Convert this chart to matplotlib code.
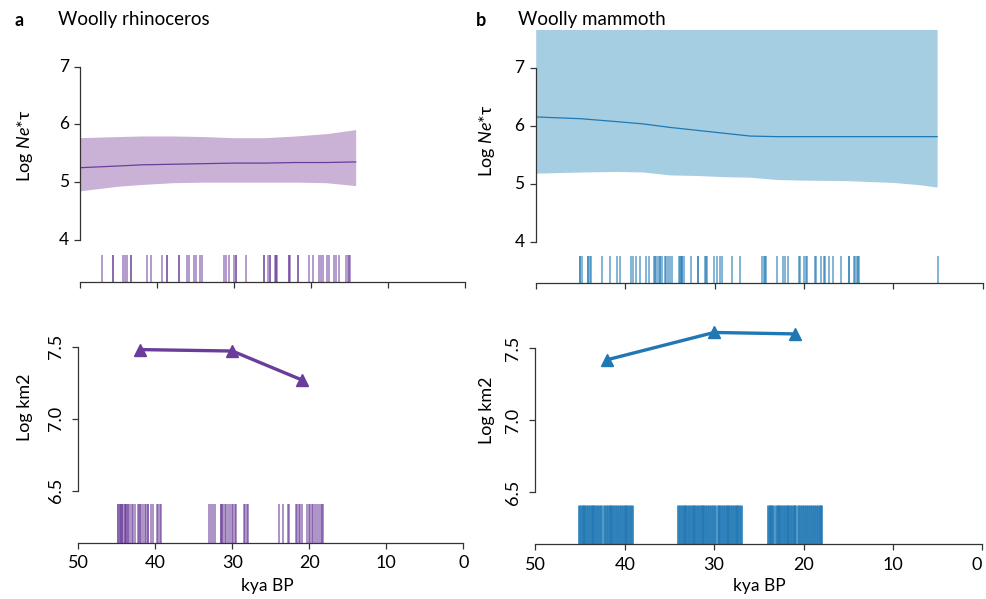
import matplotlib.pyplot as plt

# colores (ColorBrewer Paired)
rhino_dark, rhino_light = "#6a3d9a", "#cab2d6"
mam_dark, mam_light = "#1f78b4", "#a6cee3"

# Ne*tau - rinoceronte lanudo
rhino_kya = [50, 45, 42, 38, 34, 30, 26, 22, 18, 14.2]
rhino_med = [5.25, 5.28, 5.30, 5.31, 5.32, 5.33, 5.33, 5.34, 5.34, 5.35]
rhino_lo = [4.85, 4.93, 4.96, 4.99, 5.00, 5.00, 5.00, 5.00, 4.99, 4.94]
rhino_up = [5.77, 5.79, 5.80, 5.80, 5.79, 5.77, 5.77, 5.80, 5.84, 5.91]

# Ne*tau - mamut lanudo
mam_kya = [50, 45, 41, 38, 35, 32, 29, 26, 23, 20, 15, 10, 7, 5.1]
mam_med = [6.16, 6.13, 6.08, 6.04, 5.98, 5.93, 5.88, 5.83, 5.82, 5.82, 5.82, 5.82, 5.82, 5.82]
mam_lo = [5.19, 5.21, 5.22, 5.21, 5.16, 5.15, 5.13, 5.12, 5.08, 5.07, 5.06, 5.03, 4.99, 4.95]
mam_up = [8.0, 8.0, 8.0, 8.0, 8.0, 8.0, 8.0, 8.0, 8.0, 8.0, 8.0, 8.0, 8.0, 8.0]

# fechas de las muestras (kya)
rhino_dates = [47.1, 45.7, 45.7, 44.4, 44.1, 43.9, 43.4, 43.4, 41.3, 40.8, 39.4, 38.7, 38.7,
               37.1, 37.1, 36.1, 35.8, 35.2, 35.0, 34.4, 34.2, 31.3, 31.0, 30.7, 30.0, 29.8,
               29.8, 28.4, 26.1, 26.1, 25.6, 25.3, 25.3, 24.7, 24.6, 24.6, 24.4, 22.8, 22.8,
               22.7, 21.7, 21.7, 20.2, 19.8, 18.9, 18.7, 18.4, 17.9, 17.7, 17.0, 16.8, 16.3,
               15.5, 15.2, 15.1, 14.9]
mam_dates = [45.1, 45.0, 44.8, 44.2, 44.1, 43.9, 43.8, 42.6, 41.7, 40.9, 40.6, 39.3, 39.1,
             38.8, 38.3, 37.7, 37.3, 36.8, 36.7, 36.5, 36.3, 36.1, 36.1, 35.9, 35.5, 35.4,
             35.2, 35.0, 34.8, 34.0, 33.9, 33.8, 33.6, 33.6, 33.4, 32.6, 31.9, 31.8, 31.1,
             31.0, 30.8, 30.1, 29.7, 29.4, 29.2, 28.0, 27.2, 24.7, 24.5, 24.3, 24.2, 23.0,
             22.3, 22.1, 21.8, 20.6, 20.4, 20.0, 19.8, 19.6, 18.8, 18.6, 18.1, 17.8, 17.6,
             17.2, 16.7, 15.9, 15.0, 14.9, 14.4, 14.3, 14.1, 13.9, 13.8, 5.0]

# rango geográfico (Log km2)
range_kya = [42, 30, 21]
rhino_range = [7.48, 7.47, 7.27]
mam_range = [7.42, 7.61, 7.60]

rhino_range_dates = [44.9, 44.8, 44.6, 44.6, 44.5, 44.3, 44.3, 44.2, 44.0, 44.0, 43.8, 43.8,
                     43.6, 43.5, 43.3, 43.0, 42.9, 42.6, 42.3, 42.1, 42.0, 41.8, 41.6, 41.4,
                     41.2, 41.0, 40.9, 40.6, 40.3, 39.8, 39.6, 39.4, 39.2,
                     33.0, 32.8, 32.5, 32.3, 31.5, 31.5, 31.3, 31.2, 31.0, 30.8, 30.5, 30.3,
                     30.1, 29.9, 29.7, 29.5, 28.5, 28.3, 28.1, 27.9,
                     23.9, 23.4, 22.8, 22.6, 21.7, 21.6, 21.4, 21.2, 21.0, 20.3, 20.1, 19.9,
                     19.7, 19.5, 19.3, 19.0, 18.8, 18.5, 18.3, 18.2]
mam_range_dates = [45.1, 44.9, 44.7, 44.5, 44.3, 44.1, 43.9, 43.7, 43.5, 43.3, 43.1, 42.9,
                   42.6, 42.3, 42.1, 41.9, 41.7, 41.5, 41.3, 41.1, 40.9, 40.6, 40.4, 40.2,
                   40.0, 39.8, 39.6, 39.4, 39.2,
                   34.0, 33.8, 33.6, 33.4, 33.2, 33.0, 32.8, 32.6, 32.4, 32.2, 32.0, 31.8,
                   31.6, 31.4, 31.2, 31.0, 30.8, 30.6, 30.3, 30.1, 29.9, 29.6, 29.4, 29.2,
                   29.0, 28.8, 28.6, 28.4, 28.2, 28.0, 27.8, 27.6, 27.4, 27.2, 27.0,
                   24.0, 23.8, 23.6, 23.4, 23.1, 22.9, 22.7, 22.5, 22.3, 22.1, 21.9, 21.7,
                   21.5, 21.3, 21.1, 20.9, 20.6, 20.4, 20.2, 19.9, 19.7, 19.5, 19.3, 19.1,
                   18.8, 18.6, 18.4, 18.2, 18.0]

xticks = [50, 40, 30, 20, 10, 0]

plt.rcParams['font.family'] = ['Lato', 'DejaVu Sans']
plt.rcParams['mathtext.fontset'] = 'custom'
plt.rcParams['mathtext.rm'] = 'Lato'
plt.rcParams['mathtext.it'] = 'Lato:italic'

W, H = 986, 599
fig = plt.figure(figsize=(W / 100, H / 100), dpi=100)


def px_axes(x0, x1, ytop, ybot):
    return fig.add_axes([x0 / W, 1 - ybot / H, (x1 - x0) / W, (ybot - ytop) / H])


def estilo(ax, ylim, ybounds, yticks, ylabels, rot=0, xlab=False):
    ax.set_xlim(50, 0)
    ax.set_ylim(*ylim)
    for s in ["top", "right"]:
        ax.spines[s].set_visible(False)
    for s in ["left", "bottom"]:
        ax.spines[s].set_color("#333333")
        ax.spines[s].set_linewidth(0.9)
    ax.spines["left"].set_bounds(*ybounds)
    ax.set_yticks(yticks)
    ax.set_yticklabels(ylabels, rotation=rot, va="center")
    ax.set_xticks(xticks)
    ax.tick_params(length=4, width=0.9, color="#333333", labelsize=13, pad=4)
    ax.tick_params(axis="y", labelsize=12.5 if rot == 0 else 13, pad=4 if rot == 0 else 6)
    if xlab:
        ax.set_xticklabels([str(t) for t in xticks])
        ax.tick_params(axis="x", pad=5)
    else:
        ax.set_xticklabels([])
    ax.patch.set_alpha(0)


# a - arriba
ax1 = px_axes(80, 465, 66.7, 282)
ax1.fill_between(rhino_kya, rhino_lo, rhino_up, color=rhino_light, lw=0)
ax1.plot(rhino_kya, rhino_med, color=rhino_dark, lw=0.9)
ax1.vlines(rhino_dates, 3.27, 3.74, color=rhino_dark, lw=1.2, alpha=0.6)
estilo(ax1, (3.27, 7.0), (4, 7), [4, 5, 6, 7], ["4", "5", "6", "7"])

# b - arriba
ax2 = px_axes(535.7, 982.7, 30, 283.3)
ax2.fill_between(mam_kya, mam_lo, mam_up, color=mam_light, lw=0)
ax2.plot(mam_kya, mam_med, color=mam_dark, lw=0.9)
ax2.vlines(mam_dates, 3.29, 3.76, color=mam_dark, lw=1.1, alpha=0.7)
estilo(ax2, (3.29, 7.66), (4, 7), [4, 5, 6, 7], ["4", "5", "6", "7"])

# a - abajo
ax3 = px_axes(78.3, 463.3, 317.9, 542.7)
ax3.vlines(rhino_range_dates, 6.139, 6.41, color=rhino_dark, lw=1.2, alpha=0.65)
ax3.plot(range_kya, rhino_range, color=rhino_dark, lw=2.4, marker="^", ms=9)
estilo(ax3, (6.139, 7.7), (6.5, 7.5), [6.5, 7.0, 7.5], ["6.5", "7.0", "7.5"], rot=90, xlab=True)

# b - abajo
ax4 = px_axes(535.3, 982.3, 319.5, 544.3)
ax4.vlines(mam_range_dates, 6.139, 6.41, color=mam_dark, lw=1.9, alpha=0.92)
ax4.plot(range_kya, mam_range, color=mam_dark, lw=2.4, marker="^", ms=9)
estilo(ax4, (6.139, 7.7), (6.5, 7.5), [6.5, 7.0, 7.5], ["6.5", "7.0", "7.5"], rot=90, xlab=True)
ax4.get_xticklabels()[-1].set_ha("right")

# textos
fig.text(19 / W, 1 - 20 / H, "a", fontsize=13, fontweight="bold", ha="center", va="center")
fig.text(58 / W, 1 - 20 / H, "Woolly rhinoceros", fontsize=13.5, ha="left", va="center")
fig.text(481 / W, 1 - 20 / H, "b", fontsize=13, fontweight="bold", ha="center", va="center")
fig.text(518 / W, 1 - 20 / H, "Woolly mammoth", fontsize=13.5, ha="left", va="center")

fig.text(25 / W, 1 - 146 / H, "Log $Ne$*τ", fontsize=13, rotation=90, ha="center", va="center")
fig.text(487 / W, 1 - 141 / H, "Log $Ne$*τ", fontsize=13, rotation=90, ha="center", va="center")
fig.text(25 / W, 1 - 407 / H, "Log km2", fontsize=13, rotation=90, ha="center", va="center")
fig.text(487 / W, 1 - 410 / H, "Log km2", fontsize=13, rotation=90, ha="center", va="center")
fig.text(267 / W, 1 - 586 / H, "kya BP", fontsize=12.5, ha="center", va="center")
fig.text(759 / W, 1 - 586 / H, "kya BP", fontsize=12.5, ha="center", va="center")

fig.savefig("out.png", dpi=100)
